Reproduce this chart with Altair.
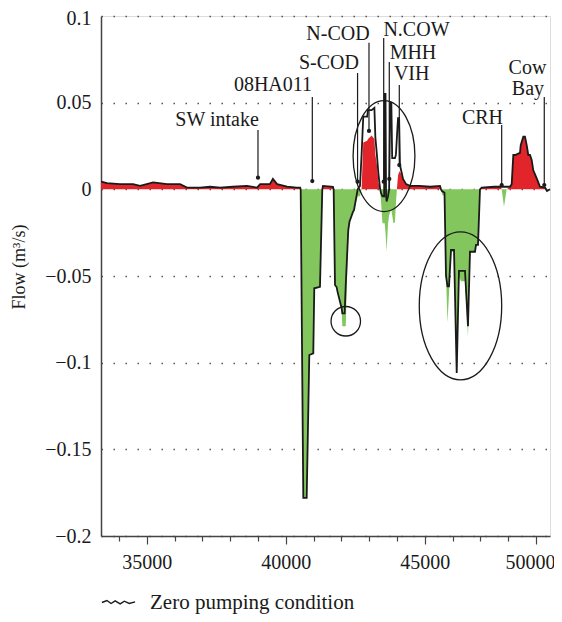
import altair as alt
import pandas as pd

# ---------------- data ----------------
chainage = [33360, 33570, 34040, 34510, 34760, 35230, 35730, 36200, 36450, 36920,
            37280, 37640, 38100, 38610, 38970, 39080, 39430, 39540, 39690, 40050,
            40400, 40520, 40539, 40633, 40755, 40849, 40992, 41028, 41233, 41316,
            41340, 41700, 41725, 41773, 41834, 41863, 42014, 42036, 42120, 42160,
            42251, 42294, 42420, 42456, 42589, 42672, 42730, 42790, 42930, 42960,
            43090, 43190, 43225, 43280, 43335, 43390, 43425, 43480, 43540, 43560,
            43590, 43610, 43630, 43680, 43720, 43760, 43800, 43830, 43875, 43930,
            43965, 44000, 44040, 44080, 44110, 44220, 44330, 44470, 44800, 45200,
            45550, 45586, 45622, 45712, 45766, 45820, 45874, 45946, 46054, 46151,
            46233, 46305, 46449, 46557, 46629, 46809, 46845, 46917, 46989, 47050,
            47500, 47740, 47769, 47852, 47949, 48068, 48129, 48187, 48248, 48428,
            48453, 48547, 48607, 48669, 48726, 48787, 48848, 48906, 49003, 49086,
            49147, 49327, 49400, 49507]

flow_pumping = [0.0045, 0.0036, 0.003, 0.003, 0.002, 0.004, 0.003, 0.003, 0.001, 0.001,
                0.0015, 0.001, 0.0015, 0.002, 0.001, 0.003, 0.003, 0.006, 0.003, 0.0015,
                0.001, 0.001, 0.0, -0.178, -0.178, -0.0956, -0.0946, -0.0571, -0.0562, 0.0,
                0.002, 0.0015, 0.0, -0.0552, -0.0565, -0.059, -0.0687, -0.079, -0.079, -0.079,
                -0.0235, -0.0187, -0.013, -0.012, -0.004, -0.004, 0.0, 0.027, 0.028, 0.029,
                0.031, 0.029, 0.020, 0.014, 0.004, 0.0, -0.006, -0.0196, -0.0196, -0.0196,
                -0.025, -0.030, -0.036, -0.020, -0.015, -0.013, -0.012, -0.015, -0.0196, -0.019,
                -0.008, 0.0, 0.008, 0.010, 0.0105, 0.006, 0.003, 0.002, 0.002, 0.0015,
                0.002, 0.0, -0.003, -0.004, -0.05, -0.077, -0.06, -0.036, -0.036, -0.106,
                -0.05, -0.053, -0.053, -0.085, -0.036, -0.036, -0.032, -0.032, 0.0, 0.001,
                0.0015, 0.0015, 0.0, -0.010, 0.0, 0.0015, 0.003, 0.0198, 0.0198, 0.021,
                0.0255, 0.0304, 0.0304, 0.0255, 0.0198, 0.0198, 0.017, 0.011, 0.0073, 0.004,
                0.0015, 0.001, -0.001, 0.0]

flow_zero = [0.0045, 0.0036, 0.003, 0.003, 0.002, 0.004, 0.003, 0.003, 0.001, 0.001,
             0.0015, 0.001, 0.0015, 0.002, 0.001, 0.003, 0.003, 0.006, 0.003, 0.0015,
             0.001, 0.001, 0.0, -0.178, -0.178, -0.0956, -0.0946, -0.0571, -0.0562, 0.0,
             0.002, 0.0015, 0.0, -0.0552, -0.0565, -0.059, -0.0687, -0.0716, -0.0716, -0.055,
             -0.0235, -0.0187, -0.013, -0.012, 0.0, 0.002, 0.02, 0.042, 0.042, 0.0457,
             0.0457, 0.047, 0.030, 0.020, 0.009, 0.001, -0.002, -0.004, -0.004, 0.055,
             0.055, -0.004, -0.007, -0.004, 0.0, 0.05, 0.05, 0.018, 0.018, 0.018,
             0.020, 0.030, 0.041, 0.041, 0.014, 0.006, 0.003, 0.002, 0.002, 0.0015,
             0.002, 0.0, -0.001, -0.002, -0.05, -0.056, -0.056, -0.035, -0.035, -0.106,
             -0.047, -0.047, -0.047, -0.079, -0.036, -0.036, -0.032, -0.032, 0.0, 0.001,
             0.0015, 0.0015, 0.0015, 0.0015, 0.0015, 0.0015, 0.003, 0.0198, 0.0198, 0.021,
             0.0255, 0.0304, 0.0304, 0.0255, 0.0198, 0.0198, 0.017, 0.011, 0.0073, 0.004,
             0.0015, 0.001, -0.001, 0.0]

series_name = "Zero pumping condition"
y_title = ["Flow (m³/s)"]

label_text = ["SW intake", "08HA011", "S-COD", "N-COD", "N.COW", "MHH", "VIH", "CRH", "Cow", "Bay"]
label_x = [37529, 39543, 41557, 41880, 44704, 44578, 44532, 47078, 48696, 48715]
label_y = [0.0400, 0.0602, 0.0729, 0.0899, 0.0922, 0.0789, 0.0663, 0.0414, 0.0700, 0.0578]

pointer_x = [39003, 40957, 42585, 42996, 43525, 43726, 44086, 47769, 49301]
pointer_top = [0.0342, 0.0533, 0.0671, 0.0845, 0.0873, 0.0734, 0.0602, 0.0371, 0.0533]
pointer_end = [0.0067, 0.0048, 0.0044, 0.0337, 0.0044, 0.0060, 0.0140, 0.0025, 0.0025]

ellipse_x = [43536, 46287]
ellipse_y = [0.0192, -0.0672]
circle_x = [42161]
circle_y = [-0.0761]

x_ticks = list(range(34000, 49001, 1000))
y_ticks = [-0.2, -0.15, -0.1, -0.05, 0.0, 0.05, 0.1]

# ---------------- styling ----------------
FONT = "Liberation Serif"
RED = "#e2252b"
GREEN = "#84c65e"
INK = "#1a1a1a"
FRAME = "#444444"

x_scale = alt.Scale(domain=[33356, 49507], nice=False, zero=False)
y_scale = alt.Scale(domain=[-0.2, 0.1], nice=False, zero=False)

x_axis = alt.Axis(
    values=x_ticks,
    labelExpr="datum.value == 49000 ? '50000' : (datum.value % 5000 == 0 ? format(datum.value, 'd') : '')",
    tickSize={"condition": {"test": "datum.value % 5000 == 0 || datum.value == 49000", "value": 8}, "value": 5},
    labelOffset={"condition": {"test": "datum.value == 49000", "value": -6}, "value": 0},
    tickColor=FRAME, tickWidth=1.2,
    domainColor=FRAME, domainWidth=1.5,
    labelFont=FONT, labelFontSize=20, labelColor=INK, labelPadding=8,
    grid=False,
)
y_axis = alt.Axis(
    values=y_ticks, format="~g",
    ticks=False, tickSize=0,
    labelOffset={"condition": {"test": "datum.value > 0.09", "value": 2}, "value": 0},
    domainColor=FRAME, domainWidth=1.5,
    labelFont=FONT, labelFontSize=20, labelColor=INK, labelPadding=10,
    grid=True, gridDash=[1.5, 10.5], gridColor="#555555", gridWidth=1.3,
)


def X(field):
    return alt.X(field, type="quantitative", scale=x_scale, axis=x_axis, title=None)


def Y(field):
    return alt.Y(field, type="quantitative", scale=y_scale, axis=y_axis, title=None)


df = pd.DataFrame({"chainage": chainage, "pumping": flow_pumping, "zero": flow_zero})
df["series"] = series_name

base = alt.Chart(df)

pos_area = base.transform_calculate(pos="max(datum.pumping, 0)").mark_area(
    color=RED, interpolate="linear").encode(x=X("chainage"), y=Y("pos"))
neg_area = base.transform_calculate(neg="min(datum.pumping, 0)").mark_area(
    color=GREEN, interpolate="linear").encode(x=X("chainage"), y=Y("neg"))

legend_path = "M -1 0 L -0.7 -0.12 L -0.45 0.06 L -0.2 -0.1 L 0.1 0.08 L 0.35 -0.08 L 0.65 0.06 L 1 -0.04"
line = base.mark_line(strokeWidth=1.8, interpolate="linear").encode(
    x=X("chainage"), y=Y("zero"),
    color=alt.Color("series:N", scale=alt.Scale(range=[INK]),
                    legend=alt.Legend(orient="none", legendX=0, legendY=569, title=None,
                                      symbolType=legend_path, symbolSize=1100,
                                      symbolStrokeWidth=1.4, labelFont=FONT,
                                      labelFontSize=21, labelColor=INK, labelLimit=400,
                                      labelOffset=14, padding=0)),
)

ell_path = "M -0.557 0 A 0.557 1 0 1 1 0.557 0 A 0.557 1 0 1 1 -0.557 0 Z"
ell_df = pd.DataFrame({"ex": ellipse_x, "ey": ellipse_y, "h": [111 * 111, 148 * 148]})
ellipses = alt.Chart(ell_df).mark_point(shape=ell_path, filled=False, color=INK, strokeWidth=1.3,
                                        opacity=1).encode(
    x=X("ex"), y=Y("ey"),
    size=alt.Size("h:Q", scale=None, legend=None))

circ_df = pd.DataFrame({"cx": circle_x, "cy": circle_y})
circles = alt.Chart(circ_df).mark_point(shape="circle", size=870, filled=False, color=INK,
                                        strokeWidth=1.3, opacity=1).encode(x=X("cx"), y=Y("cy"))

ptr_df = pd.DataFrame({"px": pointer_x, "ptop": pointer_top, "pend": pointer_end})
pointers = alt.Chart(ptr_df).mark_rule(color=INK, strokeWidth=1.2).encode(
    x=X("px"), y=Y("ptop"), y2="pend:Q")
dots = alt.Chart(ptr_df).mark_circle(color=INK, size=18, opacity=1).encode(x=X("px"), y=Y("pend"))

lab_df = pd.DataFrame({"lx": label_x, "ly": label_y, "txt": label_text})
labels = alt.Chart(lab_df).mark_text(font=FONT, fontSize=20, color=INK, align="center",
                                     baseline="middle").encode(
    x=X("lx"), y=Y("ly"), text="txt:N")

title_df = pd.DataFrame({"t": y_title})
y_title_mark = alt.Chart(title_df).mark_text(font=FONT, color=INK, angle=270,
                                             align="center", baseline="middle").encode(
    x=alt.value(-81), y=alt.value(251), text="t:N", size=alt.value(18))

chart = alt.layer(pos_area, neg_area, line, ellipses, circles, pointers, dots, labels,
                  y_title_mark).properties(
    width=449, height=520,
    autosize=alt.AutoSizeParams(type="none"),
    padding={"left": 93, "right": 4, "top": 8, "bottom": 78},
).configure_view(
    stroke=FRAME, strokeWidth=1.5
).configure_axis(
    labelFont=FONT, labelFontSize=20, labelColor=INK,
).configure_legend(
    labelFont=FONT, labelFontSize=21, labelColor=INK, labelLimit=400,
).configure(background="white")

chart.save("out.html", embed_options={"renderer": "svg", "actions": False})
